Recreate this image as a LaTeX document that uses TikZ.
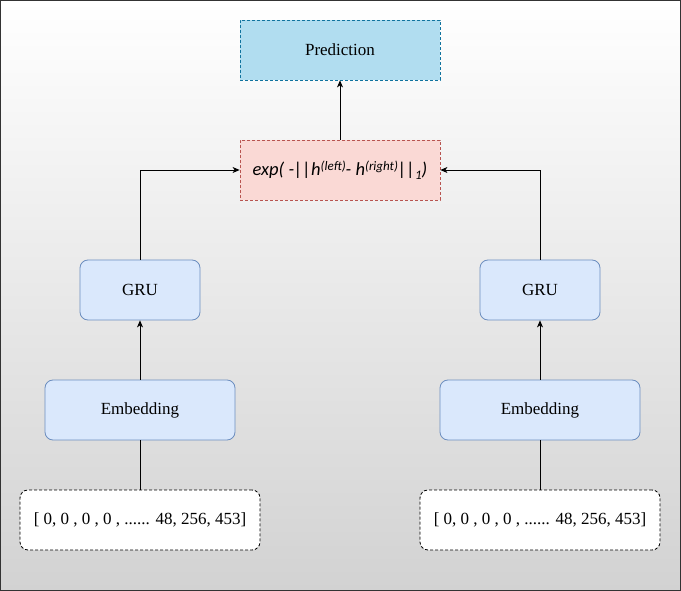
\documentclass[tikz,border=0pt]{standalone}
\usepackage{fontspec}
\setmainfont{Liberation Serif}
\newfontfamily\formulafont{Carlito}
\usetikzlibrary{arrows.meta,shadings}
\definecolor{bgtop}{RGB}{255,255,255}
\definecolor{bgbottom}{RGB}{210,210,210}
\definecolor{predfill}{HTML}{B1DDF0}
\definecolor{preddraw}{HTML}{10739E}
\definecolor{expfill}{HTML}{FAD9D5}
\definecolor{expdraw}{HTML}{B85450}
\definecolor{bluefill}{HTML}{DAE8FC}
\definecolor{bluedraw}{HTML}{6C8EBF}
\begin{document}
\begin{tikzpicture}[x=1pt,y=-1pt,
  box/.style={draw, minimum width=#1, minimum height=60pt, inner sep=0pt,
    font=\fontsize{17}{20}\selectfont, line width=0.8pt},
  predbox/.style={box=200pt, fill=predfill, draw=preddraw, dash pattern=on 3pt off 2pt},
  expbox/.style={box=200pt, fill=expfill, draw=expdraw, dash pattern=on 3pt off 2pt},
  layerbox/.style={box=#1, fill=bluefill, draw=bluedraw, rounded corners=8pt},
  inputbox/.style={box=240pt, fill=white, draw=black, rounded corners=8pt, dash pattern=on 3pt off 2pt},
  link/.style={line width=0.8pt},
  arrow/.style={link, -{Stealth[length=7pt,width=6pt,inset=2pt]}},
]
% background panel
\shade[top color=bgtop, bottom color=bgbottom] (0,0) rectangle (681,591);
\draw[line width=1.2pt, draw=black!80] (0.6,0.6) rectangle (680.4,590.4);

\node[predbox] (pred) at (340,50) {Prediction};
\node[expbox] (dist) at (340,170)
  {\formulafont\itshape\fontsize{18.5}{20}\selectfont exp( -||h\raisebox{0.55ex}{\fontsize{13}{14}\selectfont(left)}- h\raisebox{0.55ex}{\fontsize{13}{14}\selectfont(right)}||\raisebox{-0.45ex}{\fontsize{13}{14}\selectfont 1})};

\node[layerbox=120pt] (gruL) at (140,290) {GRU};
\node[layerbox=120pt] (gruR) at (540,290) {GRU};
\node[layerbox=190pt] (embL) at (140,410) {Embedding};
\node[layerbox=200pt] (embR) at (540,410) {Embedding};
\node[inputbox] (inL) at (140,520) {[ 0, 0 , 0 , 0 , ...... 48, 256, 453]};
\node[inputbox] (inR) at (540,520) {[ 0, 0 , 0 , 0 , ...... 48, 256, 453]};

\draw[link] (inL.north) -- (embL.south);
\draw[link] (inR.north) -- (embR.south);
\draw[arrow] (embL.north) -- (gruL.south);
\draw[arrow] (embR.north) -- (gruR.south);
\draw[arrow] (gruL.north) |- (dist.west);
\draw[arrow] (gruR.north) |- (dist.east);
\draw[arrow] (dist.north) -- (pred.south);
\end{tikzpicture}
\end{document}
